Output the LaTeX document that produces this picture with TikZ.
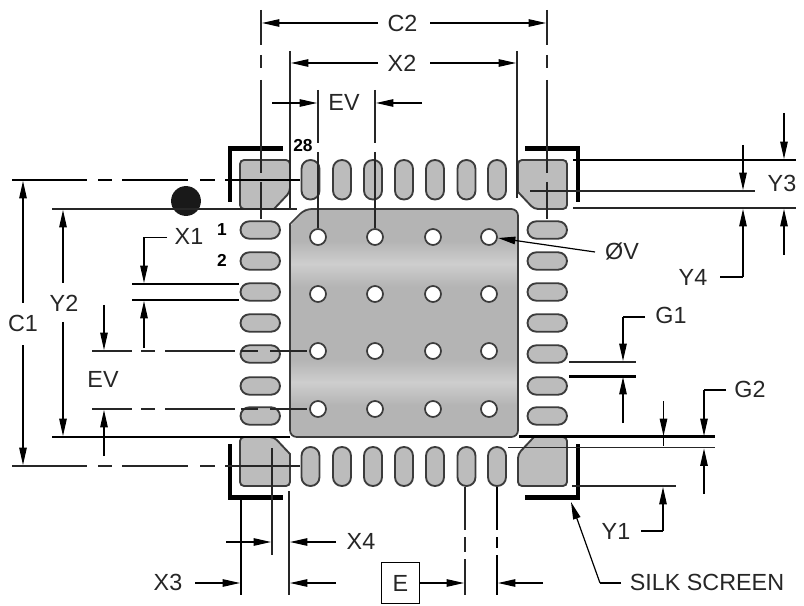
\documentclass[tikz,border=0pt]{standalone}
\usepackage{fontspec}
\setmainfont{Liberation Sans}
\usetikzlibrary{arrows.meta}
\definecolor{padA}{HTML}{B4B4B4}
\definecolor{padB}{HTML}{CECECE}
\definecolor{padC}{HTML}{BCBCBC}
\definecolor{edgeC}{HTML}{3C3C3C}
\pgfdeclareverticalshading{padbands}{100bp}{
 color(0bp)=(padA); color(7bp)=(padA); color(12bp)=(padB); color(17bp)=(padA);
 color(32bp)=(padA); color(37bp)=(padB); color(42bp)=(padA);
 color(58bp)=(padA); color(63bp)=(padB); color(68bp)=(padA);
 color(83bp)=(padA); color(88bp)=(padB); color(93bp)=(padA); color(100bp)=(padA)}
\tikzset{
 lbl/.style={font=\fontsize{17.5}{20}\selectfont,text=black!85,inner sep=0pt},
 pinno/.style={font=\fontsize{13}{15}\selectfont\bfseries,inner sep=0pt},
 pad/.style={fill=padC,draw=edgeC,line width=1.4pt},
 pin/.style={pad,rounded corners=6.6pt},
 corner/.style={pad,rounded corners=3pt},
 via/.style={fill=white,draw=edgeC,line width=1.3pt},
 silk/.style={draw=black,line width=3.4pt,line cap=butt,miter limit=10},
 mid line/.style={draw=black!85,line width=1pt},
 thick line/.style={draw=black,line width=1.6pt},
 dim/.style={draw=black,line width=0.9pt,-{Triangle[length=13pt,width=5.6pt]}},
 lead/.style={draw=black,line width=0.9pt},
}
\begin{document}
\begin{tikzpicture}[x=0.75pt,y=-0.75pt]
\useasboundingbox (0,0) rectangle (804,606);
% centre pad
\shade[shading=padbands,draw=none,rounded corners=5pt]
  (400,209) -- (518,209) -- (518,437) -- (290,437) -- (290,224) [sharp corners] -- (305,209) -- cycle;
\draw[edgeC,line width=1.3pt,rounded corners=5pt]
  (518,300) -- (518,209) -- (305,209) [sharp corners] -- (290,224) [rounded corners=5pt] -- (290,437) -- (518,437) -- (518,300);
% perimeter pins
\foreach \x in {310.5,342,373,404,435,466.5,497}{
  \draw[pin] (\x-9,160) rectangle (\x+9,199.5);
  \draw[pin] (\x-9,447) rectangle (\x+9,486);
}
\foreach \y in {230,261,292,323,354,386,416}{
  \draw[pin] (240.5,\y-8.7) rectangle (280,\y+8.7);
  \draw[pin] (527.5,\y-8.7) rectangle (567,\y+8.7);
}
% corner pads
\draw[corner] (240,180) -- (240,160) -- (290,160) -- (290,192) [sharp corners] -- (274,209) [rounded corners=3pt] -- (240,209) -- (240,180);
\draw[corner] (567,180) -- (567,209) -- (534,209) [sharp corners] -- (518,192) [rounded corners=3pt] -- (518,160) -- (567,160) -- (567,180);
\draw[corner] (240,460) -- (240,437) -- (274,437) [sharp corners] -- (290,454) [rounded corners=3pt] -- (290,486) -- (240,486) -- (240,460);
\draw[corner] (567,460) -- (567,486) -- (518,486) -- (518,454) [sharp corners] -- (534,437) [rounded corners=3pt] -- (567,437) -- (567,460);
% vias
\foreach \x in {318,375,433,489}\foreach \y in {237,294,351,409}{
  \draw[via] (\x,\y) circle (6pt);
}
% silk screen
\draw[silk] (283,148.5) -- (230,148.5) -- (230,202);
\draw[silk] (525,148.5) -- (578,148.5) -- (578,202);
\draw[silk] (230,444) -- (230,497.5) -- (283,497.5);
\draw[silk] (578,444) -- (578,497.5) -- (525,497.5);
% pin-1 dot
\fill[black!90] (186,201) circle (11.2pt);
% C2
\foreach \x in {261,547}{
  \draw[mid line] (\x,10) -- (\x,45) (\x,55) -- (\x,68) (\x,80) -- (\x,173) (\x,182) -- (\x,219);
}
\node[lbl] (c2) at (402.5,23) {C2};
\draw[dim] (378,23) -- (262,23);
\draw[dim] (430,23) -- (546,23);
% X2
\draw[mid line,line width=1.2pt] (290,51) -- (290,210);
\draw[mid line,line width=1.2pt] (517,51) -- (517,198);
\node[lbl] (x2) at (402,63) {X2};
\draw[dim] (378,63) -- (291,63);
\draw[dim] (430,63) -- (516,63);
% EV top
\foreach \x in {318,375}{
  \draw[mid line] (\x,90) -- (\x,143) (\x,152) -- (\x,228);
}
\node[lbl] (evt) at (344,102) {EV};
\draw[dim] (272,103) -- (317,103);
\draw[dim] (422,103) -- (376,103);
\node[pinno] (p28) at (303,146) {28};
\node[pinno] (p1) at (222,230) {1};
\node[pinno] (p2) at (222,260) {2};
% C1
\foreach \y/\s in {180/thick line,466/mid line}{
  \draw[\s] (12,\y) -- (87,\y) (98,\y) -- (112,\y) (122,\y) -- (188,\y) (200,\y) -- (215,\y) (225,\y) -- (300,\y);
}
\node[lbl] (c1) at (23,323) {C1};
\draw[dim] (23,303) -- (23,181);
\draw[dim] (23,345) -- (23,465);
% Y2
\draw[mid line] (52,209) -- (297,209);
\draw[thick line] (52,437) -- (290,437);
\node[lbl] (y2) at (64,303) {Y2};
\draw[dim] (63,283) -- (63,210);
\draw[dim] (63,322) -- (63,436);
% X1
\node[lbl] (x1) at (189,236) {X1};
\draw[lead] (167,237.5) -- (144,237.5);
\draw[dim] (144,237.5) -- (144,283);
\draw[thick line] (132,284) -- (239,284);
\draw[thick line] (132,300) -- (239,300);
\draw[dim] (144,348) -- (144,301);
% EV left
\foreach \y in {351,409}{
  \draw[mid line] (92,\y) -- (132,\y) (141,\y) -- (155,\y) (165,\y) -- (235,\y) (241,\y) -- (258,\y) (270,\y) -- (307,\y);
}
\node[lbl] (evl) at (103,379) {EV};
\draw[dim] (104,305) -- (104,350);
\draw[dim] (104,456) -- (104,410);
% Y3 Y4
\draw[thick line] (573,160) -- (796,160);
\draw[mid line] (530,191) -- (755,191);
\draw[mid line] (573,208) -- (796,208);
\node[lbl] (y3) at (782,183) {Y3};
\node[lbl] (y4) at (693,277) {Y4};
\draw[dim] (784,113) -- (784,159);
\draw[dim] (784,255) -- (784,209);
\draw[dim] (743,145) -- (743,190);
\draw[lead] (720,277) -- (743,277);
\draw[dim] (743,277) -- (743,209);
% OV
\node[lbl] (ov) at (622,251) {ØV};
\draw[dim] (595,252) -- (498,238);
% G1
\node[lbl] (g1) at (671,315) {G1};
\draw[lead] (645,317) -- (623,317);
\draw[dim] (623,317) -- (623,361);
\draw[mid line] (569,362) -- (636,362);
\draw[thick line] (569,376.5) -- (636,376.5);
\draw[dim] (623,423) -- (623,377);
% G2
\node[lbl] (g2) at (750,389) {G2};
\draw[lead] (726,390) -- (704,390);
\draw[dim] (704,390) -- (704,436);
\draw[thick line] (519,436.5) -- (715,436.5);
\draw[mid line] (508,447.5) -- (715,447.5);
\draw[dim] (663.5,401) -- (663.5,436);
\draw[line width=1pt] (663.5,436) -- (663.5,446);
\draw[dim] (704,494) -- (704,448.5);
% Y1
\draw[mid line] (572,486) -- (676,486);
\node[lbl] (y1) at (616,531) {Y1};
\draw[lead] (641,531) -- (663,531);
\draw[dim] (663,531) -- (663,487);
% Silk screen leader
\node[lbl] (ss) at (707,582) {SILK SCREEN};
\draw[lead] (621,583) -- (600,583);
\draw[dim] (600,583) -- (571,502);
% E
\node[lbl,draw=black,line width=0.9pt,minimum width=29pt,minimum height=31pt] (e) at (400.5,583) {E};
\draw[dim] (e.east) -- (464,583);
\draw[dim] (543,583) -- (498,583);
\draw[mid line] (465,487) -- (465,530) (465,537) -- (465,552) (465,559) -- (465,595);
\draw[thick line,line width=1.3pt] (497,487) -- (497,530) (497,537) -- (497,548) (497,555) -- (497,595);
% X3 X4
\draw[thick line,line width=1.3pt] (241,500) -- (241,595);
\draw[mid line] (272,448) -- (272,555);
\draw[mid line] (289,491) -- (289,595);
\node[lbl] (x4) at (361,541) {X4};
\draw[dim] (226,542) -- (271,542);
\draw[dim] (336,542) -- (290,542);
\node[lbl] (x3) at (168,582) {X3};
\draw[dim] (195,583) -- (240,583);
\draw[dim] (336,583) -- (290,583);
\end{tikzpicture}
\end{document}
